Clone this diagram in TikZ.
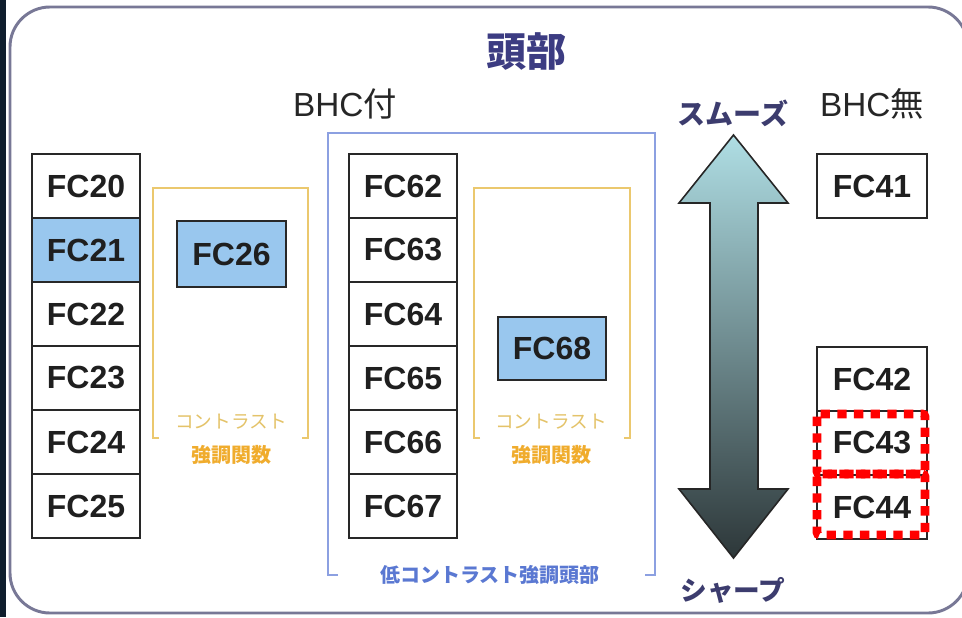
\documentclass[tikz,border=0pt]{standalone}
\usepackage{fontspec}
\setmainfont{Liberation Sans}
\newfontfamily\cjk{Noto Sans CJK JP}
\definecolor{darkbg}{RGB}{15,30,45}
\definecolor{framec}{RGB}{120,120,150}
\definecolor{boxblue}{RGB}{153,199,238}
\definecolor{boxline}{RGB}{40,40,40}
\definecolor{titlec}{RGB}{60,60,130}
\definecolor{navytxt}{RGB}{60,60,110}
\definecolor{orangeline}{RGB}{235,200,110}
\definecolor{orangelite}{RGB}{228,195,105}
\definecolor{orangedark}{RGB}{240,172,45}
\definecolor{blueline}{RGB}{140,160,225}
\definecolor{bluetxt}{RGB}{90,120,210}
\definecolor{arrowtop}{RGB}{175,222,228}
\definecolor{arrowmid}{RGB}{115,140,145}
\definecolor{arrowbot}{RGB}{45,55,57}
\tikzset{
  fcbox/.style={draw=boxline, line width=1.5pt, fill=white, inner sep=0pt,
    minimum width=81pt, minimum height=48pt, text=black!88,
    font=\bfseries\fontsize{24}{24}\selectfont},
  fcblue/.style={fcbox, fill=boxblue},
  bracketo/.style={draw=orangeline, line width=1.5pt},
  bracketb/.style={draw=blueline, line width=1.5pt},
  reddash/.style={draw=red, line width=6.5pt, dash pattern=on 7pt off 5.5pt, rounded corners=2pt},
  lbl/.style={inner sep=0pt}
}
\begin{document}
\begin{tikzpicture}[x=0.75pt,y=-0.75pt]
\useasboundingbox (0,0) rectangle (962,617);
\fill[white] (0,0) rectangle (962,617);
\fill[darkbg] (0,0) rectangle (6,617);
\draw[framec, line width=2.2pt, rounded corners=30pt] (10,7) rectangle (968,613);

% title and headers
\node[lbl, text=titlec, font=\cjk\bfseries\fontsize{30}{30}\selectfont] (title) at (526,52) {頭部};
\node[lbl, text=black!85, font=\fontsize{25}{25}\selectfont] (bhc1) at (345,104) {BHC{\cjk 付}};
\node[lbl, text=black!85, font=\fontsize{25}{25}\selectfont] (bhc2) at (872,104) {BHC{\cjk 無}};

% brackets
\draw[bracketb] (338,575) -- (328,575) -- (328,133) -- (655,133) -- (655,575) -- (645,575);
\draw[bracketo] (159,438) -- (153,438) -- (153,188) -- (308,188) -- (308,438) -- (302,438);
\draw[bracketo] (480,438) -- (474,438) -- (474,188) -- (630,188) -- (630,438) -- (624,438);

% left column
\node[fcbox]  (fc20) at (86,186) {FC20};
\node[fcblue] (fc21) at (86,250) {FC21};
\node[fcbox]  (fc22) at (86,314) {FC22};
\node[fcbox]  (fc23) at (86,378) {FC23};
\node[fcbox]  (fc24) at (86,442) {FC24};
\node[fcbox]  (fc25) at (86,506) {FC25};
\node[fcblue, minimum width=81.75pt, minimum height=49.5pt] (fc26) at (231.5,254) {FC26};

% middle column
\node[fcbox] (fc62) at (403,186) {FC62};
\node[fcbox] (fc63) at (403,250) {FC63};
\node[fcbox] (fc64) at (403,314) {FC64};
\node[fcbox] (fc65) at (403,378) {FC65};
\node[fcbox] (fc66) at (403,442) {FC66};
\node[fcbox] (fc67) at (403,506) {FC67};
\node[fcblue, minimum height=47.25pt] (fc68) at (552,348.5) {FC68};

% right column
\node[fcbox, minimum width=82.5pt] (fc41) at (872,186) {FC41};
\node[fcbox, minimum width=82.5pt] (fc42) at (872,379) {FC42};
\node[fcbox, minimum width=82.5pt] (fc43) at (872,443) {FC43};
\node[fcbox, minimum width=82.5pt] (fc44) at (872,507) {FC44};
\draw[reddash] (817,414) rectangle (925,474);
\draw[reddash] (817,474) rectangle (925,535);

% contrast labels
\node[lbl, text=orangelite, font=\cjk\fontsize{14}{14}\selectfont] (ct1) at (231,422) {コントラスト};
\node[lbl, text=orangedark, font=\cjk\bfseries\fontsize{15}{15}\selectfont] (ct1b) at (231,455) {強調関数};
\node[lbl, text=orangelite, font=\cjk\fontsize{14}{14}\selectfont] (ct2) at (551,422) {コントラスト};
\node[lbl, text=orangedark, font=\cjk\bfseries\fontsize{15}{15}\selectfont] (ct2b) at (551,455) {強調関数};
\node[lbl, text=bluetxt, font=\cjk\bfseries\fontsize{15}{15}\selectfont] (low) at (490,575) {低コントラスト強調頭部};

% double arrow
\shadedraw[top color=arrowtop, middle color=arrowmid, bottom color=arrowbot, draw=black!85, line width=1.2pt, line join=miter]
  (733.5,135) -- (788,203) -- (758,203) -- (758,489) -- (788,489) -- (733.5,558)
  -- (679,489) -- (710,489) -- (710,203) -- (679,203) -- cycle;
\node[lbl, text=navytxt, font=\cjk\bfseries\fontsize{21}{21}\selectfont] (smooth) at (733,113) {スムーズ};
\node[lbl, text=navytxt, font=\cjk\bfseries\fontsize{20}{20}\selectfont] (sharp) at (733,590) {シャープ};
\end{tikzpicture}
\end{document}
